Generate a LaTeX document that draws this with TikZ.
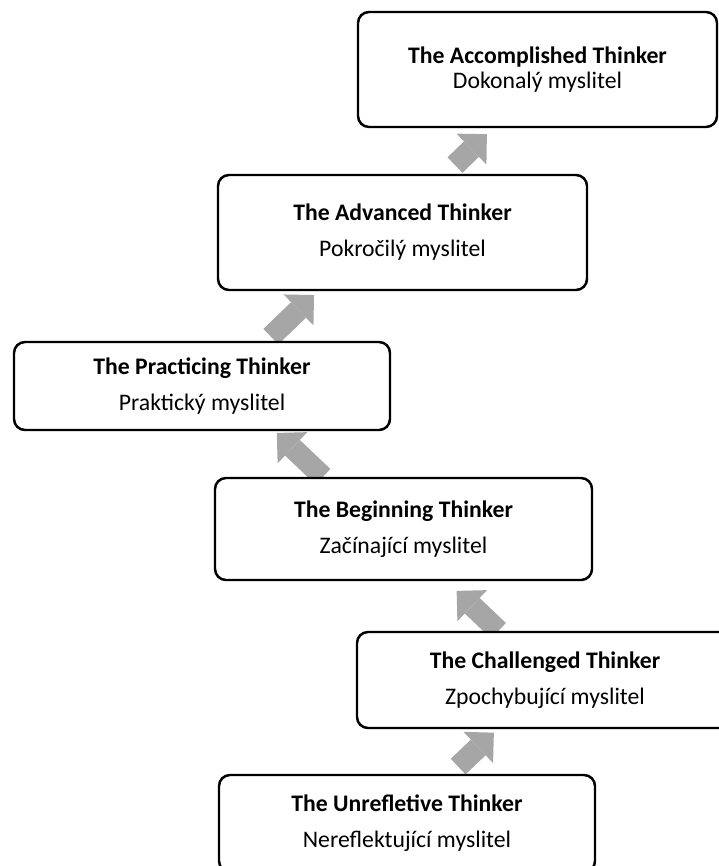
\documentclass[tikz,border=0pt]{standalone}
\usepackage{fontspec}
\setmainfont{Carlito}
\usetikzlibrary{arrows.meta,backgrounds}
\definecolor{arrowgray}{HTML}{A6A6A6}
\tikzset{
    stage/.style={draw, rectangle, rounded corners=0.22cm, line width=1.4pt, fill=white, align=center, minimum width=7.52cm, font=\fontsize{13.5pt}{14.2pt}\selectfont},
    stagearrow/.style={arrowgray, line width=0.43cm, -{Triangle[length=0.43cm, width=0.86cm, line width=0pt]}}
}
\begin{document}
\begin{tikzpicture}
    \useasboundingbox (0,0) rectangle (14.38,-17.32);
    \clip (0,0) rectangle (14.38,-17.32);
    \node (acc) [stage, minimum width=7.18cm, minimum height=2.30cm] at (10.75,-1.39) {\textbf{The Accomplished Thinker}\\Dokonalý myslitel};
    \node (adv) [stage, minimum width=7.38cm, minimum height=2.30cm] at (8.05,-4.65) {\textbf{The Advanced Thinker}\\[6.3pt]Pokročilý myslitel};
    \node (pra) [stage, minimum height=1.76cm] at (4.04,-7.72) {\textbf{The Practicing Thinker}\\[6.3pt]Praktický myslitel};
    \node (beg) [stage, minimum width=7.54cm, minimum height=2.04cm] at (8.07,-10.58) {\textbf{The Beginning Thinker}\\[6.3pt]Začínající myslitel};
    \node (cha) [stage, minimum height=1.92cm] at (10.90,-13.60) {\textbf{The Challenged Thinker}\\[6.3pt]Zpochybující myslitel};
    \node (unr) [stage, minimum height=1.94cm] at (8.14,-16.47) {\textbf{The Unrefletive Thinker}\\[6.3pt]Nereflektující myslitel};

    \begin{pgfonlayer}{background}
    \draw[stagearrow, shorten <=0.21cm, shorten >=0.10cm] ([xshift=0.87cm]unr.north) -- ([xshift=-0.95cm]cha.south);
    \draw[stagearrow, shorten >=0.28cm] ([xshift=-0.93cm]cha.north) -- ([xshift=0.86cm]beg.south);
    \draw[stagearrow, shorten >=0.05cm] ([xshift=-1.61cm]beg.north) -- ([xshift=1.46cm]pra.south);
    \draw[stagearrow, shorten <=0.12cm, shorten >=0.11cm] ([xshift=1.29cm]pra.north) -- ([xshift=-1.69cm]adv.south);
    \draw[stagearrow, shorten <=0.25cm, shorten >=0.17cm] ([xshift=0.87cm]adv.north) -- ([xshift=-0.89cm]acc.south);
    \end{pgfonlayer}
\end{tikzpicture}
\end{document}
